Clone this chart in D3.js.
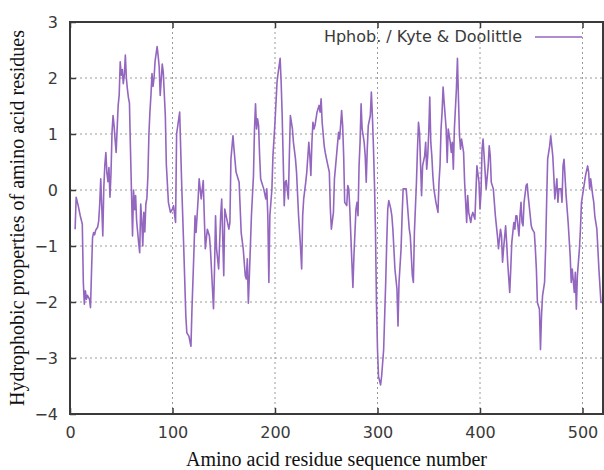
<!DOCTYPE html>
<html>
<head>
<meta charset="utf-8">
<script src="https://cdn.jsdelivr.net/npm/d3@7"></script>
<style>
    body { margin: 0; background: #fff; }
    #chart-area svg { display: block; }
</style>
</head>
<body>
<div id="chart-area"></div>
<script>
// Residue positions (x) and the Kyte & Doolittle value at each (y)
const residueNumbers = [
    5, 6, 8, 10, 12, 13, 14, 15, 16, 17, 19, 20, 21, 22, 23, 24, 25, 27, 28, 29,
    30, 31, 32, 33, 34, 35, 36, 37, 38, 39, 40, 41, 42, 43, 44, 45, 46, 47, 48, 49,
    50, 51, 52, 53, 54, 55, 56, 57, 58, 59, 60, 61, 62, 63, 64, 65, 66, 67, 68, 69,
    70, 71, 72, 73, 74, 75, 76, 77, 78, 79, 80, 81, 82, 83, 85, 86, 87, 88, 90, 91,
    93, 94, 96, 98, 100, 101, 103, 104, 107, 108, 109, 111, 113, 114, 116, 118, 119, 121, 122, 123,
    125, 126, 128, 130, 131, 132, 134, 136, 137, 140, 141, 142, 143, 145, 147, 148, 150, 151, 155, 156,
    157, 159, 160, 162, 165, 167, 169, 171, 172, 173, 174, 175, 177, 179, 180, 181, 182, 183, 184, 185,
    186, 187, 189, 191, 192, 193, 194, 195, 197, 198, 200, 202, 203, 205, 206, 207, 208, 209, 210, 211,
    213, 214, 215, 217, 218, 220, 221, 223, 225, 226, 227, 228, 230, 231, 233, 234, 235, 236, 237, 238,
    239, 241, 243, 244, 245, 246, 248, 249, 251, 253, 254, 255, 257, 258, 260, 262, 263, 264, 265, 266,
    267, 268, 270, 271, 272, 273, 274, 275, 276, 277, 279, 280, 281, 282, 283, 284, 285, 287, 288, 289,
    290, 291, 293, 294, 295, 296, 297, 298, 299, 300, 301, 303, 304, 306, 307, 308, 309, 310, 311, 313,
    314, 315, 316, 317, 319, 320, 321, 323, 324, 325, 327, 328, 330, 331, 332, 334, 335, 336, 338, 339,
    340, 341, 343, 344, 346, 347, 348, 349, 350, 351, 352, 353, 354, 355, 356, 357, 359, 360, 361, 362,
    363, 364, 365, 366, 367, 368, 369, 371, 372, 373, 374, 375, 377, 378, 379, 380, 381, 382, 384, 385,
    386, 387, 388, 389, 391, 392, 393, 395, 396, 397, 399, 400, 401, 402, 403, 404, 405, 406, 408, 409,
    410, 411, 413, 414, 415, 417, 418, 420, 421, 422, 423, 425, 426, 427, 429, 430, 431, 433, 434, 435,
    436, 438, 439, 440, 441, 442, 443, 445, 446, 447, 449, 450, 451, 453, 454, 455, 456, 458, 459, 460,
    461, 463, 464, 465, 466, 468, 469, 471, 472, 473, 475, 476, 477, 479, 480, 481, 482, 484, 485, 486,
    488, 489, 490, 492, 493, 494, 495, 497, 498, 499, 501, 502, 503, 505, 506, 507, 508, 510, 511, 512,
    514, 515, 516, 518, 519
];
const hphobValues = [
    -0.70, -0.13, -0.28, -0.46, -0.61, -1.65, -2.04, -1.80, -1.95, -1.88, -1.95, -2.10, -1.45, -0.85, -0.76, -0.80, -0.72, -0.66, -0.55, -0.25,
    0.20, -0.30, -0.82, 0.05, 0.45, 0.67, 0.30, 0.15, 0.40, -0.13, 0.30, 1.03, 1.33, 1.15, 0.90, 0.67, 1.10, 1.51, 1.70, 2.29,
    2.05, 2.15, 1.90, 2.05, 2.41, 2.00, 1.80, 1.65, 1.55, 0.73, -0.04, -0.82, 0.00, -0.35, -0.10, -0.55, -0.75, -0.95, -1.12, -0.25,
    -0.55, -1.00, -0.40, -0.75, -0.25, -0.15, 0.25, 1.00, 1.40, 1.70, 2.08, 1.85, 2.00, 2.30, 2.56, 2.40, 2.20, 1.69, 2.25, 2.10,
    1.33, 0.45, -0.22, -0.40, -0.34, -0.28, -0.58, 1.00, 1.39, 0.73, 0.08, -1.05, -2.25, -2.55, -2.61, -2.79, -2.12, -1.05, -0.46, -0.76,
    -0.16, 0.20, -0.16, 0.17, -0.46, -1.05, -0.70, -0.82, -1.05, -2.12, -1.41, -0.46, -1.05, -1.41, -0.46, -0.16, -1.53, -0.34, -0.70, -0.58,
    0.55, 0.97, 0.73, 0.32, 0.14, -0.76, -1.05, -1.53, -1.59, -1.23, -2.02, -1.53, -0.46, 0.26, 1.09, 1.54, 1.09, 1.27, 1.15, 0.61,
    0.20, 0.14, 0.02, -0.16, 0.02, -0.46, -1.65, -0.46, 0.02, 0.61, 1.21, 1.93, 2.08, 2.35, 1.93, 1.33, 0.55, -0.28, 0.14, 0.17,
    -0.16, 0.61, 1.33, 1.09, 0.85, 0.55, 0.32, -0.46, -1.05, -1.41, -0.46, -0.16, 0.14, 0.32, 0.85, 0.61, 0.26, 0.85, 1.21, 1.09,
    1.15, 1.39, 1.51, 1.39, 1.63, 1.21, 0.79, 0.67, 0.49, 0.32, -0.34, -0.70, -0.40, 0.20, 0.61, 1.03, 0.91, 1.15, 1.42, 1.15,
    0.61, -0.22, -0.28, 0.08, 0.02, -0.34, -0.82, -1.29, -1.74, -1.18, -0.34, -0.22, -0.46, 0.43, 0.85, 1.54, 1.09, 0.85, 0.61, 0.14,
    0.73, 1.15, 1.33, 1.75, 1.33, 0.79, 0.14, -0.70, -2.02, -2.85, -3.33, -3.48, -3.33, -2.85, -2.25, -1.65, -0.94, -0.34, -0.19, -0.34,
    -0.46, -0.70, -1.05, -1.41, -1.77, -2.43, -1.65, -1.05, -0.46, 0.02, 0.02, 0.02, -0.46, -0.70, -0.82, -1.53, -1.65, -0.76, 0.14, 0.73,
    1.21, 1.03, -0.10, 0.43, 0.61, 0.85, 0.37, 0.61, 1.03, 1.66, 0.85, 0.61, 0.26, 0.02, -0.10, -0.22, -0.40, 0.14, 0.43, 1.09,
    1.39, 1.84, 1.57, 1.33, 1.09, 0.49, 1.09, 0.85, 0.67, 0.85, 0.37, 1.09, 1.81, 2.35, 1.63, 0.97, 0.73, 0.91, 0.67, 0.14,
    -0.22, -0.58, -0.10, -0.40, -0.58, -0.46, -0.40, -0.52, -0.04, 0.43, 0.14, -0.34, -0.04, 0.73, 0.91, 0.61, 0.32, 0.02, 0.43, 0.79,
    0.61, 0.14, 0.02, -0.22, -0.46, -0.82, -1.05, -0.70, -0.82, -1.29, -1.05, -0.64, -0.94, -1.29, -1.83, -1.41, -0.94, -0.58, -0.70, -0.46,
    -0.46, -0.82, -0.46, -0.22, -0.58, -0.64, -0.22, 0.08, 0.11, -0.10, -0.46, -0.64, -0.70, -0.76, -1.05, -1.41, -2.01, -2.13, -2.85, -2.25,
    -1.89, -1.65, -1.05, -0.22, 0.55, 0.79, 0.97, 0.61, 0.26, -0.16, 0.20, -0.22, 0.02, 0.02, -0.22, 0.43, 0.55, -0.10, -0.34, -0.58,
    -1.18, -1.65, -1.41, -1.83, -1.47, -2.13, -1.53, -1.05, -0.70, -0.22, 0.02, 0.14, 0.26, 0.43, 0.32, 0.02, 0.20, -0.10, -0.22, -0.46,
    -0.70, -1.05, -1.41, -2.01, -2.01
];

// Axis ticks and text
const xTickValues = [0, 100, 200, 300, 400, 500];
const yTickValues = [-4, -3, -2, -1, 0, 1, 2, 3];
const legendLabel = "Hphob. / Kyte & Doolittle";
const xAxisTitle = "Amino acid residue sequence number";
const yAxisTitle = "Hydrophobic properties of amino acid residues";

class HydrophobicityChart {
    constructor(parentId, xs, ys) {
        this.parentElement = document.getElementById(parentId);
        this.xs = xs;
        this.ys = ys;

        this.margin = { top: 22, right: 1, bottom: 56, left: 70 };
        this.width = 604 - this.margin.left - this.margin.right;
        this.height = 470 - this.margin.top - this.margin.bottom;

        this.lineColor = "#9366bf";

        this.initVis();
    }

    initVis() {
        let vis = this;

        vis.svg = d3.select(vis.parentElement).append("svg")
            .attr("width", vis.width + vis.margin.left + vis.margin.right)
            .attr("height", vis.height + vis.margin.top + vis.margin.bottom)
            .append("g")
            .attr("transform", `translate(${vis.margin.left}, ${vis.margin.top})`);

        // scales
        vis.x = d3.scaleLinear().domain([0, 520]).range([0, vis.width]);
        vis.y = d3.scaleLinear().domain([-4, 3]).range([vis.height, 0]);

        // dotted grid
        let grid = vis.svg.append("g").attr("class", "grid");
        grid.selectAll("line.gx")
            .data(xTickValues.filter(d => d > 0))
            .enter().append("line")
            .attr("class", "gx")
            .attr("x1", d => vis.x(d)).attr("x2", d => vis.x(d))
            .attr("y1", 0).attr("y2", vis.height);
        grid.selectAll("line.gy")
            .data(yTickValues.filter(d => d > -4 && d < 3))
            .enter().append("line")
            .attr("class", "gy")
            .attr("x1", 0).attr("x2", vis.width)
            .attr("y1", d => vis.y(d)).attr("y2", d => vis.y(d));
        grid.selectAll("line")
            .attr("stroke", "#9a9a9a")
            .attr("stroke-width", 1)
            .attr("stroke-dasharray", "2,3");

        // axes (ticks pointing inwards, gnuplot style)
        let xAxis = d3.axisBottom(vis.x).tickValues(xTickValues).tickFormat(d3.format("d"))
            .tickSize(-6).tickPadding(13);
        let yAxis = d3.axisLeft(vis.y).tickValues(yTickValues).tickFormat(d3.format("d"))
            .tickSize(-6).tickPadding(12);

        vis.xAxisG = vis.svg.append("g")
            .attr("transform", `translate(0, ${vis.height})`)
            .call(xAxis);
        vis.yAxisG = vis.svg.append("g").call(yAxis);

        // mirror ticks on top
        vis.topAxisG = vis.svg.append("g")
            .call(d3.axisTop(vis.x).tickValues(xTickValues).tickSize(-6).tickFormat(""));

        [vis.xAxisG, vis.yAxisG, vis.topAxisG].forEach(g => {
            g.select(".domain").remove();
            g.selectAll(".tick line").attr("stroke", "#3a3a3a").attr("stroke-width", 1.5);
            g.selectAll(".tick text")
                .attr("font-family", "DejaVu Sans, sans-serif")
                .attr("font-size", 16)
                .attr("fill", "#3a3a3a");
        });

        // frame
        vis.svg.append("rect")
            .attr("width", vis.width).attr("height", vis.height)
            .attr("fill", "none").attr("stroke", "#3a3a3a").attr("stroke-width", 2);

        // axis titles
        vis.svg.append("text")
            .attr("x", vis.width / 2).attr("y", vis.height + 52)
            .attr("text-anchor", "middle")
            .attr("font-family", "Liberation Serif, Times New Roman, serif")
            .attr("font-size", 20)
            .attr("fill", "#111")
            .text(xAxisTitle);
        vis.svg.append("text")
            .attr("transform", `translate(${-46}, ${vis.height / 2}) rotate(-90)`)
            .attr("text-anchor", "middle")
            .attr("font-family", "Liberation Serif, Times New Roman, serif")
            .attr("font-size", 20)
            .attr("fill", "#111")
            .text(yAxisTitle);

        // legend
        vis.svg.append("text")
            .attr("x", 452).attr("y", 20)
            .attr("text-anchor", "end")
            .attr("font-family", "DejaVu Sans, sans-serif")
            .attr("font-size", 16)
            .attr("fill", "#3a3a3a")
            .text(legendLabel);
        vis.svg.append("line")
            .attr("x1", 465).attr("x2", 512)
            .attr("y1", 15).attr("y2", 15)
            .attr("stroke", vis.lineColor).attr("stroke-width", 1.6);

        vis.wrangleData();
        vis.updateVis();
    }

    wrangleData() {
        let vis = this;
        // pair residue number with its value
        vis.displayData = vis.xs.map((r, i) => ({ residue: r, value: vis.ys[i] }));
    }

    updateVis() {
        let vis = this;

        let line = d3.line()
            .x(d => vis.x(d.residue))
            .y(d => vis.y(d.value));

        vis.svg.append("path")
            .datum(vis.displayData)
            .attr("fill", "none")
            .attr("stroke", vis.lineColor)
            .attr("stroke-width", 1.6)
            .attr("stroke-linejoin", "round")
            .attr("d", line);
    }
}

new HydrophobicityChart("chart-area", residueNumbers, hphobValues);
</script>
</body>
</html>
